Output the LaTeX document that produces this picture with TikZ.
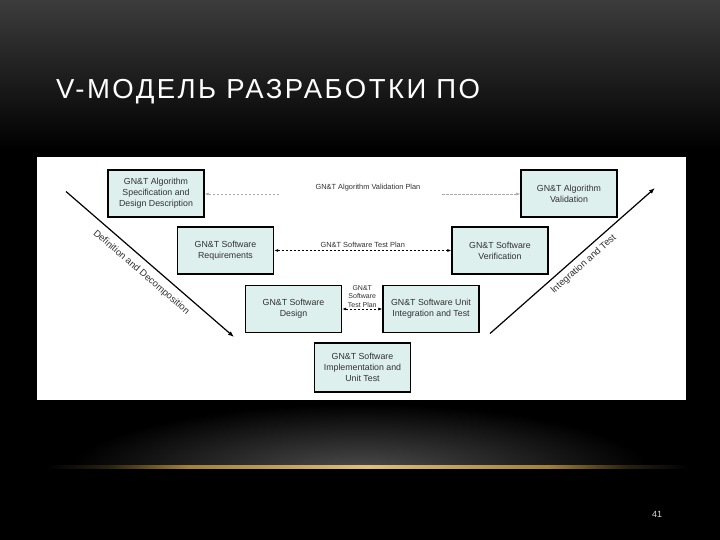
\documentclass[tikz,border=0pt]{standalone}
\usepackage{fontspec}
\setmainfont{Liberation Sans}
\newfontfamily\titlefont[LetterSpace=9]{Liberation Sans}
\usetikzlibrary{arrows.meta}
\definecolor{boxfill}{RGB}{221,240,238}
\definecolor{topgray}{RGB}{60,60,60}
\definecolor{glowgray}{RGB}{78,78,78}
\definecolor{gold}{RGB}{214,170,80}
\definecolor{boxtext}{RGB}{50,50,50}
\definecolor{planline}{RGB}{170,170,170}
\pgfdeclarehorizontalshading{goldline}{100bp}{color(0bp)=(black); color(25bp)=(black); color(30bp)=(gold!20!black); color(36bp)=(gold!75!black); color(50bp)=(gold!75!white); color(64bp)=(gold!75!black); color(70bp)=(gold!20!black); color(75bp)=(black); color(100bp)=(black)}
\tikzset{
  vbox/.style={draw=black, line width=1.3pt, fill=boxfill, minimum width=96pt, minimum height=47pt,
    inner sep=1pt, align=center, text=boxtext, font=\fontsize{8.8}{11}\selectfont},
  planlabel/.style={text=boxtext, font=\fontsize{7.4}{9}\selectfont, inner sep=1pt},
  plan/.style={dashed, line width=0.7pt, dash pattern=on 2.5pt off 1.5pt, {Latex[length=4pt,width=3pt]}-{Latex[length=4pt,width=3pt]}},
  phase/.style={line width=1.2pt, -{Latex[length=6pt,width=4.5pt]}},
  phaselabel/.style={text=boxtext, font=\fontsize{9.5}{11}\selectfont, inner sep=0pt}
}
\begin{document}
\begin{tikzpicture}[x=1pt,y=-1pt]
\useasboundingbox (0,0) rectangle (720,540);
% background
\fill[black] (0,0) rectangle (720,540);
\shade[top color=topgray, bottom color=black] (0,0) rectangle (720,150);
\begin{scope}
  \clip (0,395) rectangle (720,466);
  \shade[inner color=glowgray, outer color=black] (360,472) ellipse (290 and 68);
\end{scope}
\shade[shading=goldline] (45,465) rectangle (690,468);
% title
\node[anchor=west, text=white, font=\titlefont\fontsize{27.5}{31}\selectfont, inner sep=0pt] (title) at (56,92) {V-МОДЕЛЬ РАЗРАБОТКИ ПО};
% page number
\node[text=white!85!black, font=\fontsize{9}{10}\selectfont, inner sep=0pt] (pnum) at (657,514) {41};
% white panel
\fill[white] (37,157) rectangle (686,400);
% boxes
\node[vbox] (b1) at (156,193.5) {GN\&T Algorithm\\Specification and\\Design Description};
\node[vbox] (b2) at (225.5,250.5) {GN\&T Software\\Requirements};
\node[vbox] (b3) at (293.5,309) {GN\&T Software\\Design};
\node[vbox, minimum height=49pt] (b4) at (362.5,367.5) {GN\&T Software\\Implementation and\\Unit Test};
\node[vbox] (b5) at (431,309) {GN\&T Software Unit\\Integration and Test};
\node[vbox] (b6) at (500,250.5) {GN\&T Software\\Verification};
\node[vbox] (b7) at (569,193.5) {GN\&T Algorithm\\Validation};
% V arrows
\coordinate (l1) at (66,191.5);
\coordinate (l2) at (234,337);
\coordinate (r1) at (490,333.5);
\coordinate (r2) at (655,188);
\draw[phase] (l1) -- (l2) node[phaselabel, sloped, below=7pt, pos=0.495] {Definition and Decomposition};
\draw[phase] (r1) -- (r2) node[phaselabel, sloped, below=5pt, pos=0.527] {Integration and Test};
% plans
\coordinate (g1) at (279,194);
\coordinate (g2) at (442,194);
\draw[plan, draw=planline, -{Latex[length=4pt,width=3pt]}] (g1) -- (b1.east |- g1);
\draw[plan, draw=planline, -{Latex[length=4pt,width=3pt]}] (g2) -- (b7.west |- g2);
\node[planlabel] (p1) at (368,188) {GN\&T Algorithm Validation Plan};
\draw[plan] (b2.east) -- (b6.west) node[planlabel, midway, above=2pt] (p2) {GN\&T Software Test Plan};
\draw[plan] (b3.east) -- (b5.west) node[planlabel, midway, above=0.5pt, align=center, font=\fontsize{7}{8.5}\selectfont] (p3) {GN\&T\\Software\\Test Plan};
\end{tikzpicture}
\end{document}
